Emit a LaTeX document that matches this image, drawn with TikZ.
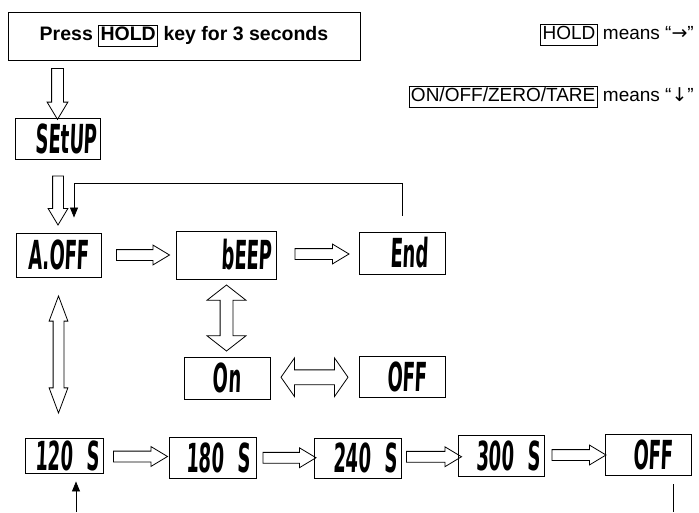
\documentclass[tikz,border=0pt]{standalone}
\usepackage{fontspec}
\setmainfont{Liberation Sans}
\newfontfamily\lcdfont{DejaVu Sans}[FakeStretch=0.45,FakeSlant=0.04]
\newfontfamily\arrowfont{DejaVu Sans}
\usetikzlibrary{shapes.arrows,calc,arrows.meta}

\newcommand\keybox[1]{{\setlength\fboxsep{1.5pt}\setlength\fboxrule{0.8pt}\fbox{\rule[-4pt]{0pt}{17.5pt}#1}}}

\tikzset{
  lcd/.style={draw, line width=0.9pt, inner ysep=0pt, text height=29pt, text depth=0pt,
    font=\lcdfont\bfseries\fontsize{40}{40}\selectfont},
  rbox/.style 2 args={text width=#1, inner xsep=#2, align=right},
  harrow/.style={single arrow, draw, line width=0.8pt, inner sep=0pt, inner ysep=5pt,
    single arrow head extend=4.5pt, single arrow tip angle=62, minimum height=#1},
  harrow/.default=53pt,
  dblarrow/.style={double arrow, draw, line width=0.8pt, inner sep=0pt, minimum height=#1},
  loopline/.style={line width=0.8pt, -{Triangle[length=10pt,width=8pt]}},
  note/.style={anchor=east, inner sep=0pt, font=\fontsize{19}{23}\selectfont},
}

\begin{document}
\begin{tikzpicture}[x=1pt,y=-1pt]
  \useasboundingbox (0,0) rectangle (699,512);

  % title and legend
  \node[draw, line width=0.9pt, minimum width=352pt, minimum height=48pt,
    font=\bfseries\fontsize{19.5}{23}\selectfont] (press) at (184,36) {Press \keybox{HOLD} key for 3 seconds};
  \node[note] (holdnote) at (694,35) {\keybox{HOLD} means “{\arrowfont →}”};
  \node[note] (zeronote) at (694,97) {\keybox{ON/OFF/ZERO/TARE} means “{\arrowfont ↓}”};

  % displays
  \node[lcd, rbox={79pt}{3pt}, minimum height=41pt] (setup) at (57.5,138.5) {SEtUP};
  \node[lcd, minimum width=85pt, minimum height=44pt] (aoff) at (58.5,255) {A.OFF};
  \node[lcd, rbox={92pt}{4pt}, minimum height=48pt] (beep) at (226,255) {bEEP};
  \node[lcd, rbox={52pt}{17pt}, minimum height=42pt] (endbox) at (402,253) {End};
  \node[lcd, minimum width=86pt, minimum height=42pt] (on) at (227,378) {On};
  \node[lcd, rbox={50pt}{18pt}, minimum height=41pt] (offbeep) at (402,376.5) {OFF};
  \node[lcd, rbox={70pt}{4pt}, minimum height=35pt] (s120) at (64,455.5) {120 S};
  \node[lcd, rbox={75pt}{6pt}, minimum height=41pt] (s180) at (212.5,457.5) {180 S};
  \node[lcd, rbox={79pt}{4pt}, minimum height=40pt] (s240) at (357.5,458) {240 S};
  \node[lcd, rbox={78pt}{4pt}, minimum height=41pt] (s300) at (501,455.5) {300 S};
  \node[lcd, rbox={50pt}{18pt}, minimum height=41pt] (offend) at (648,454.5) {OFF};

  % hollow arrows
  \node[harrow=51pt, rotate=-90, inner ysep=5.5pt] (down1) at ($(press.south -| setup.north)!.5!(setup.north)$) {};
  \node[harrow=49pt, rotate=-90] (down2) at ($(setup.south)!.5!(aoff.north)$) {};
  \node[harrow] (right1) at ($(aoff.east)!.5!(beep.west)$) {};
  \node[harrow=54pt] (right2) at ($(beep.east)!.5!(endbox.west)$) {};
  \node[harrow=54pt] (right3) at ($(s120.east)!.5!(s180.west)$) {};
  \node[harrow] (right4) at ($(s180.east)!.5!(s240.west)$) {};
  \node[harrow=55pt] (right5) at ($(s240.east)!.5!(s300.west)$) {};
  \node[harrow=54pt] (right6) at ($(s300.east)!.5!(offend.west)$) {};

  % double arrows
  \node[dblarrow=117pt, rotate=90, inner ysep=5pt, double arrow head extend=4pt,
    double arrow tip angle=41] (updown1) at ($(aoff.south)!.5!(aoff.south |- s120.north)+(0,-3)$) {};
  \node[dblarrow=66pt, rotate=90, inner ysep=6pt, double arrow head extend=13pt,
    double arrow tip angle=104] (updown2) at ($(beep.south)!.5!(on.north)$) {};
  \node[dblarrow=67pt, inner ysep=7pt, double arrow head extend=12pt,
    double arrow tip angle=110] (leftright) at ($(on.east)!.5!(offbeep.west)$) {};

  % loops
  \draw[loopline] ([yshift=16pt]endbox.north) -- ++(0,-32) -| ([xshift=15.5pt,yshift=15pt]aoff.north);
  \coordinate (loopout) at (673,512);
  \coordinate (loopin) at (76,512);
  \draw[line width=0.8pt] ([xshift=25pt,yshift=-9pt]offend.south) -- (loopout);
  \draw[loopline] (loopin) -- ([xshift=12pt,yshift=-8pt]s120.south);
\end{tikzpicture}
\end{document}
